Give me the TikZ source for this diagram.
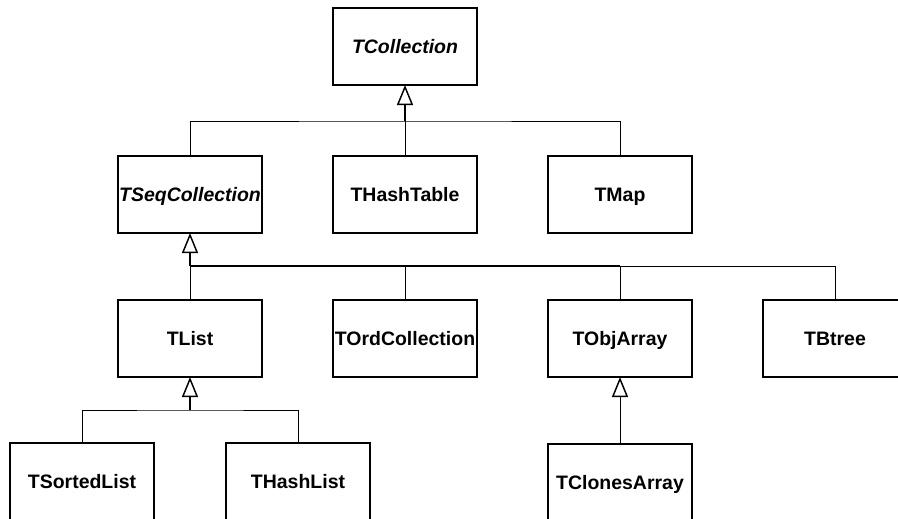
\documentclass[tikz,border=0pt]{standalone}
\usepackage{fontspec}
\setmainfont{Liberation Sans}
\usetikzlibrary{positioning, arrows.meta}
\tikzset{
	klass/.style={
		rectangle,
		draw=black,
		line width=1.3pt,
		minimum width=108pt,
		minimum height=57.75pt,
		inner sep=0pt,
		outer sep=0pt,
		text height=10.4pt,
		text depth=0pt,
		font=\fontsize{14.6}{17}\selectfont\bfseries
	},
	abstract/.style={klass, font=\fontsize{14.6}{17}\selectfont\bfseries\itshape},
	link/.style={line width=0.75pt},
	trunk/.style={line width=1.5pt},
	inherit/.style={-{Triangle[open, length=15pt, width=12pt, line width=1.1pt]}}
}

\begin{document}
\begin{tikzpicture}[x=0.75pt, y=-0.75pt, node distance=53.25pt]
	\useasboundingbox (0,0) rectangle (898,518);

	% top
	\node [abstract] (tcoll) at (405,46.5) {TCollection};

	% second row
	\node [klass, below = of tcoll] (thash) {THashTable};
	\node [abstract, left = of thash] (tseq) {TSeqCollection};
	\node [klass, right = of thash] (tmap) {TMap};

	% third row
	\node [klass, below = 50.25pt of tseq] (tlist) {TList};
	\node [klass, right = of tlist] (tord) {TOrdCollection};
	\node [klass, right = of tord] (tobj) {TObjArray};
	\node [klass, right = of tobj] (tbtree) {TBtree};

	% bottom row
	\node [klass] (tsorted) at (82,481.5) {TSortedList};
	\node [klass, right = 54pt of tsorted] (thashlist) {THashList};
	\node [klass, below = 50.25pt of tobj] (tclones) {TClonesArray};

	\coordinate [below = 27pt of tcoll.south] (bus1);
	\coordinate [below = 24.75pt of tseq.south] (bus2);
	\coordinate [below = 24.75pt of tlist.south] (bus3);

	% TCollection
	\draw [link] (tseq.north) |- (bus1) -| (tmap.north);
	\draw [link] (bus1) -- (thash.north);
	\draw [trunk, inherit] (bus1) -- (tcoll.south);

	% TSeqCollection
	\draw [trunk] (bus2) -- (bus2 -| tobj.north);
	\draw [link] (bus2 -| tobj.north) -| (tbtree.north);
	\foreach \c in {tlist, tord, tobj}
		\draw [link] (bus2 -| \c.north) -- (\c.north);
	\draw [trunk, inherit] (bus2) -- (tseq.south);

	% TList
	\draw [link] (tsorted.north) |- (bus3) -| (thashlist.north);
	\draw [trunk, inherit] (bus3) -- (tlist.south);

	% TObjArray
	\draw [link, inherit] (tclones.north) -- (tobj.south);
\end{tikzpicture}
\end{document}
